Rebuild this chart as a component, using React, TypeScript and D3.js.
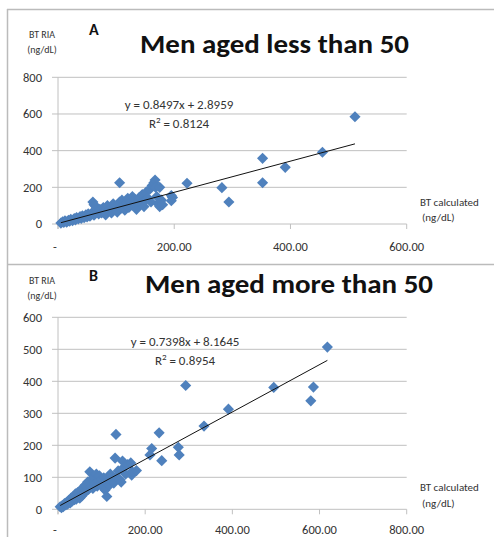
import * as d3 from "d3";

// panel A: men aged less than 50 (BT calculated, BT RIA)
const menUnder50: [number, number][] = [
  [5, 5], [8, 12], [10, 8], [12, 18], [15, 10], [18, 20], [20, 15], [22, 25], [25, 18], [28, 30],
  [30, 22], [32, 35], [35, 28], [38, 40], [40, 30], [42, 45], [45, 35], [48, 50], [50, 38], [52, 55],
  [55, 42], [58, 60], [60, 120], [62, 105], [62, 48], [65, 95], [68, 65], [70, 55], [72, 80], [75, 60],
  [78, 90], [80, 70], [82, 50], [85, 100], [88, 75], [90, 85], [92, 60], [95, 110], [98, 80], [100, 95],
  [102, 65], [106, 225], [106, 120], [108, 85], [110, 130], [112, 100], [115, 75], [118, 110], [120, 140], [122, 90],
  [125, 120], [128, 150], [130, 100], [132, 135], [135, 80], [138, 125], [140, 145], [142, 110], [145, 160], [148, 95],
  [150, 130], [152, 175], [155, 140], [158, 190], [160, 120], [162, 210], [165, 225], [167, 240], [168, 200], [170, 150],
  [172, 110], [175, 95], [175, 200], [178, 130], [180, 105], [195, 155], [195, 127], [197, 145], [222, 222], [282, 198],
  [294, 120], [352, 358], [352, 225], [391, 309], [455, 391], [511, 585],
];

// panel B: men aged more than 50
const menOver50: [number, number][] = [
  [5, 8], [8, 5], [10, 12], [12, 8], [15, 18], [18, 14], [20, 22], [22, 16], [25, 28], [28, 20],
  [30, 35], [32, 25], [35, 40], [38, 30], [40, 48], [42, 32], [45, 52], [48, 38], [50, 35], [52, 60],
  [55, 42], [58, 68], [60, 50], [62, 75], [65, 58], [68, 85], [70, 62], [73, 117], [75, 70], [78, 95],
  [80, 65], [82, 100], [85, 78], [88, 110], [90, 72], [92, 88], [95, 105], [98, 80], [100, 92], [102, 70],
  [105, 98], [108, 60], [110, 85], [112, 40], [115, 100], [118, 75], [120, 110], [122, 90], [126, 92], [128, 82],
  [131, 160], [133, 234], [135, 100], [138, 120], [142, 92], [148, 151], [145, 85], [150, 130], [155, 110], [160, 140],
  [167, 145], [169, 107], [170, 118], [180, 121], [211, 170], [215, 190], [232, 239], [238, 152], [276, 194], [278, 170],
  [293, 387], [335, 260], [391, 313], [495, 381], [580, 339], [586, 382], [618, 507],
];

const yTicksA = [0, 200, 400, 600, 800];
const xTicksA = [0, 200, 400, 600];
const yTicksB = [0, 100, 200, 300, 400, 500, 600];
const xTicksB = [0, 200, 400, 600, 800];

const titles = ["Men aged less than 50", "Men aged more than 50"];
const letters = ["A", "B"];
const slopes = [0.8497, 0.7398];
const intercepts = [2.8959, 8.1645];
const r2 = ["0.8124", "0.8954"];

const font = "Carlito, Calibri, Lato, 'Open Sans', sans-serif";
const blue = "#4f81bd";
const grid = "#c0c0c0";

const fmtX = (v: number) => (v === 0 ? "-" : d3.format(".2f")(v));

function Panel({ data, xTicks, yTicks, top, y0, yMaxPx, idx }: any) {
  const x = d3.scaleLinear().domain([0, xTicks[xTicks.length - 1]]).range([58, 406.7]);
  const y = d3.scaleLinear().domain([0, yTicks[yTicks.length - 1]]).range([y0, yMaxPx]);
  const diamond = d3.symbol(d3.symbolSquare, 62)();
  const xs = data.map((d: number[]) => d[0]);
  const x1 = d3.min(xs) as number;
  const x2 = d3.max(xs) as number;
  const f = (v: number) => slopes[idx] * v + intercepts[idx];
  const eqX = idx === 0 ? 179 : 185;
  const eqY = idx === 0 ? 104 : 341.5;
  return (
    <g fontFamily={font}>
      <text x={42} y={top + 29} fontSize={10} fill="#333" textAnchor="middle">
        <tspan x={42}>BT RIA</tspan>
        <tspan x={42} dy={15}>(ng/dL)</tspan>
      </text>
      <text x={89} y={top + 26} fontSize={16} fontWeight="bold" fill="#111">{letters[idx]}</text>
      <text x={idx === 0 ? 140 : 145} y={top + (idx === 0 ? 43.5 : 37.5)} fontSize={27} fontWeight="bold" fill="#111"
        textLength={idx === 0 ? 269 : 288} lengthAdjust="spacingAndGlyphs">{titles[idx]}</text>
      {yTicks.map((t: number) => (
        <g key={t}>
          <line x1={52} x2={406.7} y1={y(t)} y2={y(t)} stroke={grid} strokeWidth={1} />
          <text x={42} y={y(t)} dy="0.35em" fontSize={12.5} fill="#333" textAnchor="end">{t}</text>
        </g>
      ))}
      <line x1={58} x2={58} y1={y(yTicks[yTicks.length - 1])} y2={y0 + 5} stroke={grid} strokeWidth={1} />
      {xTicks.map((t: number) => (
        <g key={t}>
          <line x1={x(t)} x2={x(t)} y1={y0} y2={y0 + 5} stroke={grid} strokeWidth={1} />
          <text x={t === 0 ? 55 : x(t)} y={y0 + (idx === 0 ? 23 : 20.5)} dy="0.35em" fontSize={12.5} fill="#333" textAnchor="middle">{fmtX(t)}</text>
        </g>
      ))}
      {data.map((d: number[], i: number) => (
        <path key={i} d={diamond as string} transform={`translate(${x(d[0])},${y(d[1])}) rotate(45)`} fill={blue} />
      ))}
      <line x1={x(x1)} y1={y(f(x1))} x2={x(x2)} y2={y(f(x2))} stroke="#111" strokeWidth={1} />
      <text x={eqX} y={eqY} dy="0.35em" fontSize={13} fill="#333" textAnchor="middle">
        {`y = ${slopes[idx]}x + ${intercepts[idx]}`}
      </text>
      <text x={eqX} y={eqY + 19} dy="0.35em" fontSize={13} fill="#333" textAnchor="middle">
        R<tspan dy={-5} fontSize={9}>2</tspan><tspan dy={5}>{` = ${r2[idx]}`}</tspan>
      </text>
      <text x={420} y={y0 - 22} dy="0.35em" fontSize={11} fill="#333">BT calculated</text>
      <text x={422} y={y0 - 6.5} dy="0.35em" fontSize={11} fill="#333">(ng/dL)</text>
    </g>
  );
}

export default function App() {
  return (
    <svg width={494} height={537} style={{ position: "absolute", left: 0, top: 0, background: "#fff" }}>
      <rect x={0} y={0} width={494} height={537} fill="#fff" />
      <line x1={7} x2={494} y1={9.5} y2={9.5} stroke="#bbb" strokeWidth={1.5} />
      <line x1={7} x2={494} y1={264.5} y2={264.5} stroke="#bbb" strokeWidth={1.5} />
      <line x1={7.5} x2={7.5} y1={9} y2={537} stroke="#bbb" strokeWidth={1.5} />
      <Panel data={menUnder50} xTicks={xTicksA} yTicks={yTicksA} top={9} y0={224} yMaxPx={77.3} idx={0} />
      <Panel data={menOver50} xTicks={xTicksB} yTicks={yTicksB} top={255} y0={509.3} yMaxPx={317.3} idx={1} />
    </svg>
  );
}
